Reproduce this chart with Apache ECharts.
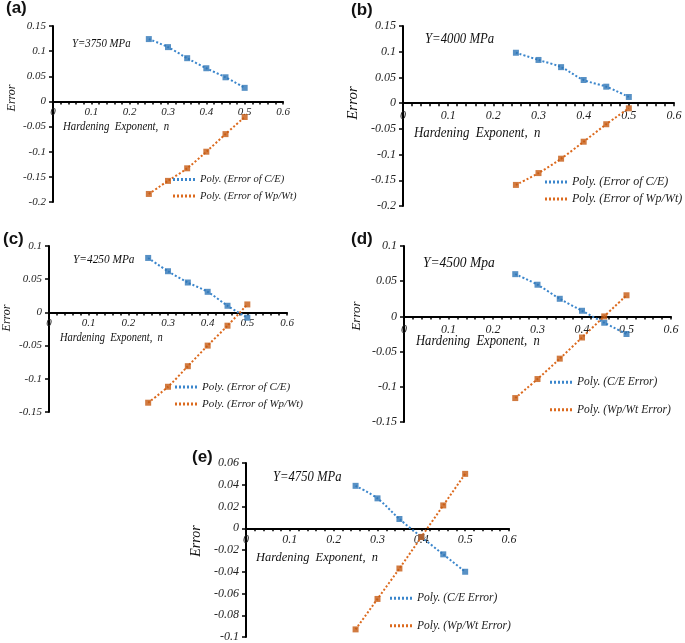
<!DOCTYPE html>
<html>
<head>
<meta charset="utf-8">
<script src="https://cdn.jsdelivr.net/npm/echarts@6/dist/echarts.min.js"></script>
<style>
html,body{margin:0;padding:0;background:#fff;}
#chart{width:685px;height:643px;}
</style>
</head>
<body>
<div id="chart"></div>
<script>
// ---- data ----
const nValues = [0.25, 0.30, 0.35, 0.40, 0.45, 0.50];

const ceA = [0.124, 0.108, 0.086, 0.066, 0.048, 0.027];
const wpA = [-0.184, -0.158, -0.133, -0.100, -0.065, -0.031];

const ceB = [0.098, 0.084, 0.070, 0.045, 0.032, 0.012];
const wpB = [-0.159, -0.136, -0.108, -0.075, -0.041, -0.010];

const ceC = [0.082, 0.062, 0.045, 0.031, 0.010, -0.008];
const wpC = [-0.136, -0.112, -0.081, -0.050, -0.020, 0.012];

const ceD = [0.060, 0.045, 0.025, 0.008, -0.009, -0.025];
const wpD = [-0.116, -0.089, -0.060, -0.030, 0.000, 0.030];

const ceE = [0.039, 0.0275, 0.0085, -0.008, -0.024, -0.040];
const wpE = [-0.093, -0.065, -0.037, -0.008, 0.021, 0.050];

const panelLetters = ['(a)', '(b)', '(c)', '(d)', '(e)'];
const stressLabels = ['Y=3750 MPa', 'Y=4000 MPa', 'Y=4250 MPa', 'Y=4500 Mpa', 'Y=4750 MPa'];
const legendCE = ['Poly. (Error of C/E)', 'Poly. (Error of C/E)', 'Poly. (Error of C/E)', 'Poly. (C/E Error)', 'Poly. (C/E Error)'];
const legendWP = ['Poly. (Error of Wp/Wt)', 'Poly. (Error of Wp/Wt)', 'Poly. (Error of Wp/Wt)', 'Poly. (Wp/Wt Error)', 'Poly. (Wp/Wt Error)'];
const yMins = [-0.2, -0.2, -0.15, -0.15, -0.1];
const yMaxs = [0.15, 0.15, 0.1, 0.1, 0.06];
const yIntervals = [0.05, 0.05, 0.05, 0.05, 0.02];
const xMin = 0, xMax = 0.6, xInterval = 0.1;
const xAxisTitle = 'Hardening  Exponent,  n';
const yAxisTitle = 'Error';

const ceSets = [ceA, ceB, ceC, ceD, ceE];
const wpSets = [wpA, wpB, wpC, wpD, wpE];

// ---- layout / style (not data) ----
const layout = [
  {grid:{left:53,top:26,width:230,height:176}, tick:11, xm:5, leg:{left:168,top:169,gap:5.5,fs:10.5},
   stress:{x:72,y:44,fs:13,sx:0.83}, title:{x:6,y:9}, err:{x:12,y:98,fs:12}, xname:{x:63,y:127,fs:12,sx:0.9}},
  {grid:{left:403,top:26,width:271,height:180}, tick:12, xm:7, leg:{left:540,top:171,gap:5,fs:12},
   stress:{x:425,y:39,fs:15,sx:0.85}, title:{x:351,y:11}, err:{x:353,y:103,fs:15}, xname:{x:414,y:133,fs:14,sx:0.92}},
  {grid:{left:49,top:246,width:238,height:166}, tick:11, xm:5, leg:{left:170,top:376.5,gap:6,fs:11},
   stress:{x:73,y:259,fs:13.5,sx:0.84}, title:{x:3,y:240}, err:{x:7,y:318,fs:12}, xname:{x:60,y:338,fs:11.5,sx:0.91}},
  {grid:{left:404,top:246,width:267,height:176}, tick:12, xm:7, leg:{left:545,top:371.25,gap:15.5,fs:11.5},
   stress:{x:423,y:263,fs:15,sx:0.9}, title:{x:351,y:240}, err:{x:357,y:316,fs:13}, xname:{x:416,y:341,fs:14,sx:0.9}},
  {grid:{left:246,top:463,width:263,height:174}, tick:12, xm:6, leg:{left:385,top:587.25,gap:15.5,fs:11.5},
   stress:{x:273,y:477,fs:14.5,sx:0.87}, title:{x:192,y:458}, err:{x:196,y:541,fs:14}, xname:{x:256,y:557,fs:13.5,sx:0.92}}
];

const BLUE_M = '#2e75b6', BLUE_L = '#3b86cc';
const ORANGE_M = '#c55a11', ORANGE_L = '#dc6a1e';
const SERIF = '"Liberation Serif", "Times New Roman", serif';
// dotted-line legend icon
const DOT_ICON = 'path://M0,0h2v3h-2zM4,0h2v3h-2zM8,0h2v3h-2zM12,0h2v3h-2zM16,0h2v3h-2zM20,0h2v3h-2z';

const grids = [], xAxes = [], yAxes = [], series = [], legends = [], graphics = [];

function pairs(vals){ return nValues.map((n,i)=>[n, vals[i]]); }

for (let p = 0; p < 5; p++) {
  const L = layout[p];
  grids.push(Object.assign({containLabel:false}, L.grid));
  // move the x axis (line, ticks and labels) up to y = 0
  const zeroFromBottom = L.grid.height * (0 - yMins[p]) / (yMaxs[p] - yMins[p]);
  xAxes.push({
    type:'value', gridIndex:p, min:xMin, max:xMax, interval:xInterval,
    position:'bottom', offset:-zeroFromBottom,
    axisLine:{onZero:false, lineStyle:{color:'#000', width:2}},
    axisTick:{show:true, length:3, inside:false, lineStyle:{color:'#000', width:1.5}},
    minorTick:{show:true, splitNumber:5, length:3, lineStyle:{color:'#000', width:1.5}},
    splitLine:{show:false},
    axisLabel:{fontFamily:SERIF, fontStyle:'italic', fontSize:L.tick, color:'#222', margin:L.xm,
      formatter:(v)=>String(+v.toFixed(2))}
  });
  yAxes.push({
    type:'value', gridIndex:p, min:yMins[p], max:yMaxs[p], interval:yIntervals[p],
    axisLine:{show:true, onZero:false, lineStyle:{color:'#000', width:2}},
    axisTick:{show:true, length:4, lineStyle:{color:'#000', width:1.5}},
    splitLine:{show:false},
    axisLabel:{fontFamily:SERIF, fontStyle:'italic', fontSize:L.tick, color:'#222', margin:7,
      formatter:(v)=>String(+v.toFixed(3))}
  });
  series.push({
    name:legendCE[p], type:'line', xAxisIndex:p, yAxisIndex:p, data:pairs(ceSets[p]),
    symbol:'none', smooth:0.3, lineStyle:{color:BLUE_L, width:2, type:[2,2]}, itemStyle:{color:BLUE_L}, z:2
  });
  series.push({
    name:legendWP[p], type:'line', xAxisIndex:p, yAxisIndex:p, data:pairs(wpSets[p]),
    symbol:'none', smooth:0.3, lineStyle:{color:ORANGE_L, width:2, type:[2,2]}, itemStyle:{color:ORANGE_L}, z:2
  });
  series.push({
    name:'ce-points-'+p, type:'scatter', xAxisIndex:p, yAxisIndex:p, data:pairs(ceSets[p]),
    symbol:'rect', symbolSize:6, itemStyle:{color:BLUE_M}, z:3
  });
  series.push({
    name:'wp-points-'+p, type:'scatter', xAxisIndex:p, yAxisIndex:p, data:pairs(wpSets[p]),
    symbol:'rect', symbolSize:6, itemStyle:{color:ORANGE_M}, z:3
  });
  legends.push({
    data:[{name:legendCE[p], icon:DOT_ICON}, {name:legendWP[p], icon:DOT_ICON}],
    orient:'vertical', left:L.leg.left, top:L.leg.top,
    itemGap:L.leg.gap, itemWidth:22, itemHeight:3, selectedMode:false,
    textStyle:{fontFamily:SERIF, fontStyle:'italic', fontSize:L.leg.fs, color:'#222'}
  });
  graphics.push({type:'text', left:L.title.x, top:L.title.y - 9,
    style:{text:panelLetters[p], font:'bold 17px "Liberation Sans", Arial, sans-serif', fill:'#111'}});
  graphics.push({type:'text', x:L.stress.x, y:L.stress.y, scaleX:L.stress.sx,
    style:{text:stressLabels[p], font:'italic '+L.stress.fs+'px '+SERIF, fill:'#111', textVerticalAlign:'middle'}});
  graphics.push({type:'text', x:L.xname.x, y:L.xname.y, scaleX:L.xname.sx,
    style:{text:xAxisTitle, font:'italic '+L.xname.fs+'px '+SERIF, fill:'#111', textVerticalAlign:'middle'}});
  graphics.push({type:'text', x:L.err.x, y:L.err.y, rotation:Math.PI/2,
    style:{text:yAxisTitle, font:'italic '+L.err.fs+'px '+SERIF, fill:'#111', textAlign:'center', textVerticalAlign:'middle'}});
}

const chart = echarts.init(document.getElementById('chart'), null, {renderer:'canvas'});
chart.setOption({
  backgroundColor:'#fff',
  animation:false,
  grid:grids, xAxis:xAxes, yAxis:yAxes, series:series, legend:legends, graphic:graphics
});
</script>
</body>
</html>
